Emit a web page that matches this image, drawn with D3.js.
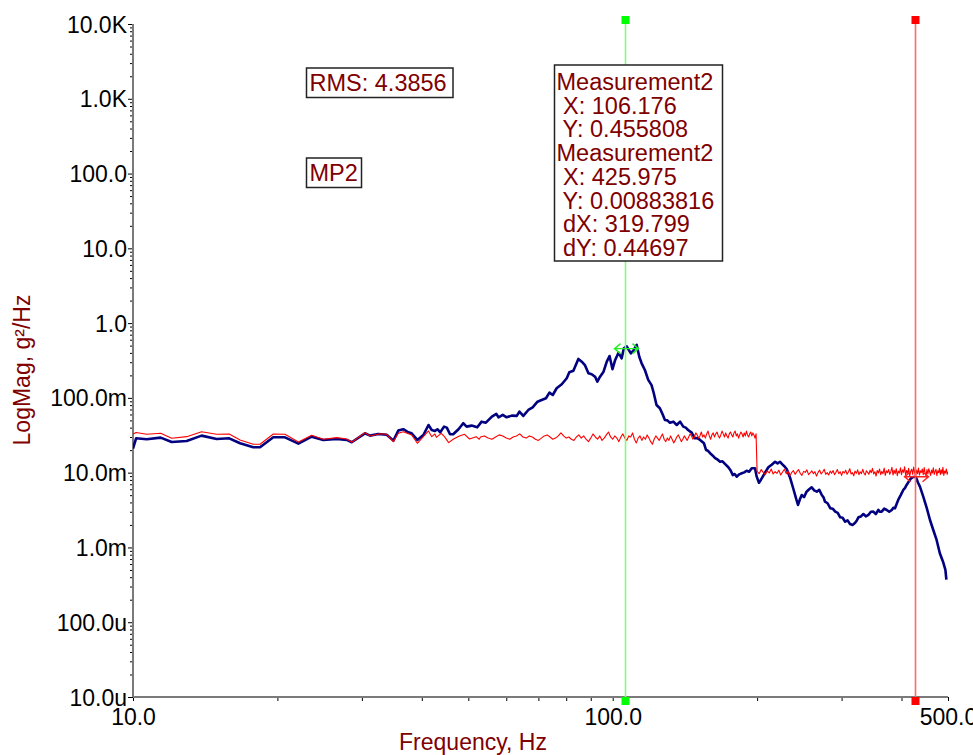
<!DOCTYPE html>
<html>
<head>
<meta charset="utf-8">
<script src="https://cdn.jsdelivr.net/npm/d3@7"></script>
<style>
    body { margin: 0; background: #fff; }
    text { font-family: "Liberation Sans", Arial, sans-serif; }
</style>
</head>
<body>
<svg width="973" height="755"></svg>
<script>
// ---- data ----
// blue trace: [frequency Hz, g²/Hz]
var blueTrace = [
    [10.0,0.021],[10.15,0.0288],[10.68,0.0280],[11.42,0.0294],[12.04,0.0257],[12.94,0.0265],
    [13.90,0.0313],[14.94,0.0282],[15.87,0.0288],[16.72,0.0247],[17.81,0.0219],[18.40,0.0219],
    [19.61,0.0297],[20.74,0.0297],[22.12,0.0244],[23.58,0.0303],[24.93,0.0274],[26.59,0.0282],
    [27.90,0.0274],[28.57,0.0255],[30.45,0.0336],[31.2,0.0313],[32.45,0.0329],[33.8,0.0322],
    [34.9,0.0268],[35.73,0.0365],[36.6,0.0381],[37.5,0.0347],[38.1,0.0336],[39.15,0.0274],
    [40.3,0.0319],[41.3,0.0434],[41.95,0.0372],[42.6,0.0361],[43.1,0.0381],[43.7,0.0347],
    [44.5,0.0413],[45.1,0.0400],[45.8,0.0326],[46.5,0.0326],[47.7,0.0381],[48.8,0.0458],
    [49.6,0.0413],[50.8,0.0426],[52.2,0.0404],[53.3,0.0481],[54.4,0.0466],[56.0,0.0561],
    [57.2,0.0611],[57.8,0.0550],[59.0,0.0592],[60.1,0.0550],[61.6,0.0579],[63.1,0.0574],
    [63.9,0.0654],[65.1,0.0574],[66.7,0.0689],[68.1,0.0746],[69.7,0.0889],[71.1,0.0937],
    [72.6,0.0988],[73.8,0.1174],[75.0,0.1093],[76.4,0.1345],[78.3,0.152],[80.2,0.183],
    [81.2,0.220],[82.8,0.231],[84.8,0.332],[86.2,0.305],[87.5,0.275],[89.0,0.213],
    [90.4,0.207],[91.9,0.192],[92.9,0.165],[94.1,0.192],[95.7,0.224],[97.2,0.305],
    [98.5,0.363],[99.9,0.242],[101.2,0.322],[102.8,0.402],[104.4,0.338],[105.5,0.461],
    [106.9,0.49],[108.0,0.438],[109.1,0.395],[110.4,0.429],[112.2,0.51],[113.6,0.355],
    [114.9,0.290],[116.7,0.236],[118.6,0.174],[120.5,0.148],[121.8,0.1154],[123.4,0.0804],
    [125.4,0.0726],[127.0,0.061],[128.5,0.0507],[130.0,0.050],[131.6,0.0466],[133.8,0.0481],
    [136.0,0.0434],[138.2,0.0481],[140.3,0.0413],[142.0,0.040],[143.6,0.0372],[146.1,0.0343],
    [148.4,0.0288],[150.2,0.029],[152.1,0.0274],[155.0,0.0247],[156.5,0.0201],[158.0,0.0196],
    [159.6,0.0182],[161.5,0.0170],[163.5,0.0156],[165.4,0.0150],[167.4,0.0140],[169.4,0.0142],
    [171.4,0.0131],[174.2,0.0118],[176.0,0.0108],[177.9,0.0093],[179.6,0.0096],[181.4,0.00885],
    [183.6,0.0095],[185.8,0.0098],[188.0,0.0101],[190.2,0.0106],[192.5,0.0103],[194.9,0.01145],
    [198.0,0.01145],[199.6,0.00885],[201.8,0.00735],[203.6,0.0080],[205.5,0.00885],[208.3,0.0103],
    [211.1,0.0118],[214.5,0.0128],[218.0,0.0140],[220.6,0.0133],[223.3,0.0140],[225.5,0.0130],
    [227.6,0.0123],[230.5,0.0112],[234.2,0.00864],[237.8,0.00619],[241.6,0.00432],[243.4,0.0037],
    [245.6,0.0044],[247.8,0.00503],[250.5,0.0047],[253.6,0.00557],[256.8,0.0060],[259.9,0.00638],
    [263.0,0.0058],[266.4,0.00557],[269.5,0.0059],[272.8,0.00503],[275.0,0.0047],[277.1,0.00409],
    [280.5,0.0039],[284.1,0.00335],[287.5,0.0033],[291.0,0.00301],[294.5,0.0029],[298.0,0.00253],
    [301.5,0.0025],[305.2,0.00221],[308.8,0.0023],[312.4,0.00206],[316.2,0.0020],[320.2,0.00214],
    [322.8,0.0023],[325.3,0.00253],[329.2,0.0026],[333.1,0.0028],[337.1,0.0026],[341.2,0.00272],
    [345.3,0.0030],[349.4,0.00301],[353.6,0.0028],[357.9,0.00317],[360.8,0.0030],[363.7,0.00301],
    [368.1,0.0033],[372.6,0.00317],[377.1,0.0030],[381.7,0.00317],[384.7,0.0034],[387.7,0.00335],
    [390.7,0.0038],[393.7,0.00432],[398.5,0.0050],[403.4,0.00587],[406.6,0.0062],[409.9,0.00685],
    [414.3,0.0076],[418.7,0.00841],[423.3,0.00876],[428.6,0.00876],[432.8,0.0074],[437,0.0065],
    [444,0.00478],[451.6,0.00335],[458.6,0.00233],[465.9,0.00171],[473.4,0.00126],[480.8,0.000836],
    [488.2,0.000645],[493.8,0.0005],[496.1,0.00037]
];

// red trace, low band: [frequency Hz, g²/Hz]
var redLow = [
    [10.0,0.0329],[10.15,0.0345],[10.68,0.0326],[11.42,0.0336],[12.04,0.0288],[12.94,0.0303],
    [13.90,0.0353],[14.94,0.0326],[15.87,0.0329],[16.72,0.0274],[17.81,0.024],[18.40,0.024],
    [19.61,0.0329],[20.74,0.0326],[22.12,0.0257],[23.58,0.0316],[24.93,0.0280],[26.59,0.0294],
    [27.90,0.0282],[28.57,0.0255],[30.45,0.0343],[31.2,0.0309],[32.75,0.0332],[33.8,0.0326],
    [34.9,0.0259],[35.73,0.0336],[36.6,0.0353],[38.1,0.0319],[39.15,0.0247],[40.3,0.0303],
    [41.3,0.0361],[41.95,0.0303],[42.6,0.0329],[42.9,0.0297],[43.9,0.0336],[44.6,0.0303],
    [45.5,0.0252],[46.5,0.0280],[47.9,0.0309],[49.1,0.0326],[50.3,0.0282],[51.9,0.0303],
    [52.7,0.0280]
];

// red trace, 53..199 Hz, 1 Hz bins
var redMidStart = 53, redMidStep = 1;
var redMid = [
    0.030,0.031,0.029,0.028,0.030,0.032,0.031,0.029,0.028,0.030,
    0.031,0.033,0.030,0.029,0.031,0.030,0.028,0.027,0.029,0.031,
    0.032,0.030,0.028,0.029,0.031,0.034,0.031,0.029,0.030,0.028,
    0.027,0.030,0.032,0.029,0.031,0.028,0.026,0.029,0.033,0.030,
    0.028,0.031,0.027,0.029,0.032,0.035,0.030,0.028,0.031,0.029,
    0.026,0.030,0.033,0.029,0.027,0.031,0.030,0.034,0.028,0.025,
    0.029,0.031,0.027,0.030,0.028,0.032,0.029,0.026,0.024,0.028,
    0.031,0.029,0.027,0.030,0.033,0.028,0.026,0.029,0.027,0.031,
    0.028,0.025,0.027,0.030,0.032,0.029,0.026,0.028,0.031,0.029,
    0.027,0.030,0.033,0.031,0.028,0.030,0.034,0.032,0.029,0.031,
    0.035,0.030,0.032,0.029,0.033,0.036,0.031,0.028,0.032,0.034,
    0.030,0.033,0.035,0.031,0.029,0.032,0.036,0.033,0.030,0.034,
    0.031,0.029,0.033,0.035,0.032,0.030,0.034,0.036,0.031,0.033,
    0.029,0.032,0.035,0.033,0.030,0.034,0.031,0.036,0.032,0.030,
    0.033,0.035,0.031,0.034,0.032,0.029,0.033
];

// red trace, 200..500 Hz, 2 Hz bins
var redHighStart = 200, redHighStep = 2;
var redHigh = [
    0.0104,0.0097,0.0110,0.0101,0.0094,0.0106,0.0099,0.0112,0.0096,0.0103,
    0.0098,0.0108,0.0093,0.0102,0.0111,0.0097,0.0105,0.0091,0.0100,0.0107,
    0.0095,0.0103,0.0110,0.0098,0.0092,0.0104,0.0101,0.0109,0.0094,0.0099,
    0.0106,0.0097,0.0103,0.0090,0.0101,0.0108,0.0096,0.0102,0.0111,0.0095,
    0.0100,0.0093,0.0105,0.0098,0.0107,0.0094,0.0101,0.0110,0.0097,0.0103,
    0.0092,0.0104,0.0099,0.0108,0.0095,0.0102,0.0113,0.0096,0.0100,0.0091,
    0.0105,0.0098,0.0109,0.0094,0.0103,0.0097,0.0111,0.0099,0.0093,0.0106,
    0.0101,0.0095,0.0108,0.0100,0.0114,0.0096,0.0103,0.0090,0.0107,0.0099,
    0.0112,0.0094,0.0104,0.0097,0.0115,0.0092,0.0106,0.0100,0.0110,0.0095,
    0.0103,0.0118,0.0093,0.0108,0.0097,0.0113,0.0091,0.0105,0.0099,0.0116,
    0.0094,0.0109,0.0101,0.0120,0.0092,0.0107,0.0098,0.0114,0.0090,0.0104,
    0.0111,0.0095,0.0119,0.0100,0.0088,0.0108,0.0097,0.0115,0.0093,0.0106,
    0.0101,0.0112,0.0094,0.0117,0.0099,0.0090,0.0110,0.0096,0.0113,0.0102,
    0.0092,0.0108,0.0099,0.0116,0.0095,0.0104,0.0111,0.0091,0.0106,0.0100,
    0.0114,0.0094,0.0109,0.0097,0.0118,0.0092,0.0105,0.0099,0.0112,0.0095,
    0.0103
];

var yTickValues = [1e4, 1e3, 100, 10, 1, 0.1, 0.01, 1e-3, 1e-4, 1e-5];
var yTickLabels = ['10.0K', '1.0K', '100.0', '10.0', '1.0', '100.0m', '10.0m', '1.0m', '100.0u', '10.0u'];
var xTickValues = [10, 100, 500];
var xTickLabels = ['10.0', '100.0', '500.0'];

var cursorA = { x: 106.176, y: 0.455808 };
var cursorB = { x: 425.975, y: 0.00883816 };
var measureLines = ['Measurement2', ' X: 106.176', ' Y: 0.455808', 'Measurement2',
    ' X: 425.975', ' Y: 0.00883816', ' dX: 319.799', ' dY: 0.44697'];
var rmsText = 'RMS: 4.3856';
var traceName = 'MP2';

// ---- chart ----
(function () {
    var svg = d3.select('svg');
    var left = 133, right = 948, top = 24, bottom = 697;
    var darkRed = '#800000';
    var fontSize = '23px';

    var x = d3.scaleLog().domain([10, 500]).range([left, right]);
    var y = d3.scaleLog().domain([1e-5, 1e4]).range([bottom, top]);

    svg.append('rect').attr('width', 973).attr('height', 755).attr('fill', '#fff');

    svg.append('clipPath').attr('id', 'plotClip')
        .append('rect')
        .attr('x', left).attr('y', top)
        .attr('width', right - left).attr('height', bottom - top);

    // minor ticks
    var yMinor = y.ticks().filter(function (d) {
        return yTickValues.indexOf(d) < 0;
    });
    var xMinor = x.ticks().filter(function (d) {
        return xTickValues.indexOf(d) < 0;
    });

    svg.append('g')
        .attr('transform', 'translate(' + left + ',0)')
        .call(d3.axisLeft(y).tickValues(yMinor).tickSize(3).tickFormat(''))
        .call(function (g) { g.select('.domain').remove(); });
    svg.append('g')
        .attr('transform', 'translate(0,' + bottom + ')')
        .call(d3.axisBottom(x).tickValues(xMinor).tickSize(4).tickFormat(''))
        .call(function (g) { g.select('.domain').remove(); });

    // major ticks + labels
    var yAxis = svg.append('g')
        .attr('transform', 'translate(' + left + ',0)')
        .call(d3.axisLeft(y).tickValues(yTickValues).tickSize(5).tickPadding(1)
            .tickFormat(function (d, i) { return yTickLabels[i]; }));
    yAxis.selectAll('text')
        .attr('font-size', fontSize)
        .attr('fill', '#000')
        .attr('dy', null)
        .attr('dominant-baseline', 'central')
        .style('font-family', '"Liberation Sans", Arial, sans-serif');
    yAxis.select('.domain').remove();

    var xAxis = svg.append('g')
        .attr('transform', 'translate(0,' + bottom + ')')
        .call(d3.axisBottom(x).tickValues(xTickValues).tickSize(4)
            .tickFormat(function (d, i) { return xTickLabels[i]; }));
    xAxis.selectAll('text')
        .attr('font-size', fontSize)
        .attr('fill', '#000')
        .attr('y', 20)
        .attr('dy', null)
        .attr('dominant-baseline', 'central')
        .style('font-family', '"Liberation Sans", Arial, sans-serif');
    xAxis.select('.domain').remove();

    // axis lines
    svg.append('line')
        .attr('x1', left).attr('x2', left).attr('y1', top).attr('y2', bottom)
        .attr('stroke', '#7a7a7a').attr('stroke-width', 2);
    svg.append('line')
        .attr('x1', left).attr('x2', right).attr('y1', bottom).attr('y2', bottom)
        .attr('stroke', '#7a7a7a').attr('stroke-width', 2);

    // traces
    var line = d3.line()
        .x(function (d) { return x(d[0]); })
        .y(function (d) { return y(d[1]); });

    var redTrace = redLow
        .concat(redMid.map(function (v, i) { return [redMidStart + i * redMidStep, v]; }))
        .concat(redHigh.map(function (v, i) { return [redHighStart + i * redHighStep, v]; }));

    var plot = svg.append('g').attr('clip-path', 'url(#plotClip)');
    plot.append('path')
        .datum(blueTrace)
        .attr('d', line)
        .attr('fill', 'none')
        .attr('stroke', '#000080')
        .attr('stroke-width', 2.6)
        .attr('stroke-linejoin', 'round');
    plot.append('path')
        .datum(redTrace)
        .attr('d', line)
        .attr('fill', 'none')
        .attr('stroke', '#ff0000')
        .attr('stroke-width', 1.1)
        .attr('stroke-linejoin', 'round');

    // cursors
    drawCursor(cursorA, '#7dff7d', '#00ff00', '#22ee22');
    drawCursor(cursorB, '#ff6a6a', '#ff0000', '#ff2020');

    function drawCursor(c, lineColor, squareColor, arrowColor) {
        var cx = Math.round(x(c.x)) + 0.5;
        svg.append('line')
            .attr('x1', cx).attr('x2', cx).attr('y1', 20).attr('y2', 701)
            .attr('stroke', lineColor).attr('stroke-width', 1.6);
        [20, 701].forEach(function (yy) {
            svg.append('rect')
                .attr('x', cx - 4).attr('y', yy - 4)
                .attr('width', 8).attr('height', 8)
                .attr('fill', squareColor);
        });
        var cy = y(c.y);
        var x1 = cx - 11, x2 = cx + 13;
        svg.append('path')
            .attr('d', 'M' + x1 + ',' + cy + 'L' + x2 + ',' + cy +
                'M' + (x1 + 6) + ',' + (cy - 5) + 'L' + x1 + ',' + cy + 'L' + (x1 + 6) + ',' + (cy + 5) +
                'M' + (x2 - 6) + ',' + (cy - 5) + 'L' + x2 + ',' + cy + 'L' + (x2 - 6) + ',' + (cy + 5))
            .attr('fill', 'none')
            .attr('stroke', arrowColor)
            .attr('stroke-width', 1.4);
    }

    // annotation boxes
    labelBox(306.5, 68, 146.5, 29.5, [rmsText], 309.5, 83);
    labelBox(306.5, 158, 55, 29.5, [traceName], 309.5, 173);
    labelBox(554.5, 65, 168, 196, measureLines, 556.5, 82);

    function labelBox(bx, by, bw, bh, lines, tx, ty) {
        svg.append('rect')
            .attr('x', bx).attr('y', by)
            .attr('width', bw).attr('height', bh)
            .attr('fill', '#fff')
            .attr('stroke', '#222')
            .attr('stroke-width', 1.5);
        svg.selectAll(null)
            .data(lines)
            .enter()
            .append('text')
            .attr('x', tx)
            .attr('y', function (d, i) { return ty + i * 23.7; })
            .attr('dominant-baseline', 'central')
            .attr('font-size', '23.5px')
            .attr('fill', darkRed)
            .style('white-space', 'pre')
            .text(function (d) { return d; });
    }

    // axis titles
    svg.append('text')
        .attr('transform', 'translate(22,370) rotate(-90)')
        .attr('text-anchor', 'middle')
        .attr('dominant-baseline', 'central')
        .attr('font-size', fontSize)
        .attr('fill', darkRed)
        .text('LogMag, g²/Hz');
    svg.append('text')
        .attr('x', 473).attr('y', 742)
        .attr('text-anchor', 'middle')
        .attr('dominant-baseline', 'central')
        .attr('font-size', fontSize)
        .attr('fill', darkRed)
        .text('Frequency, Hz');
}());
</script>
</body>
</html>
